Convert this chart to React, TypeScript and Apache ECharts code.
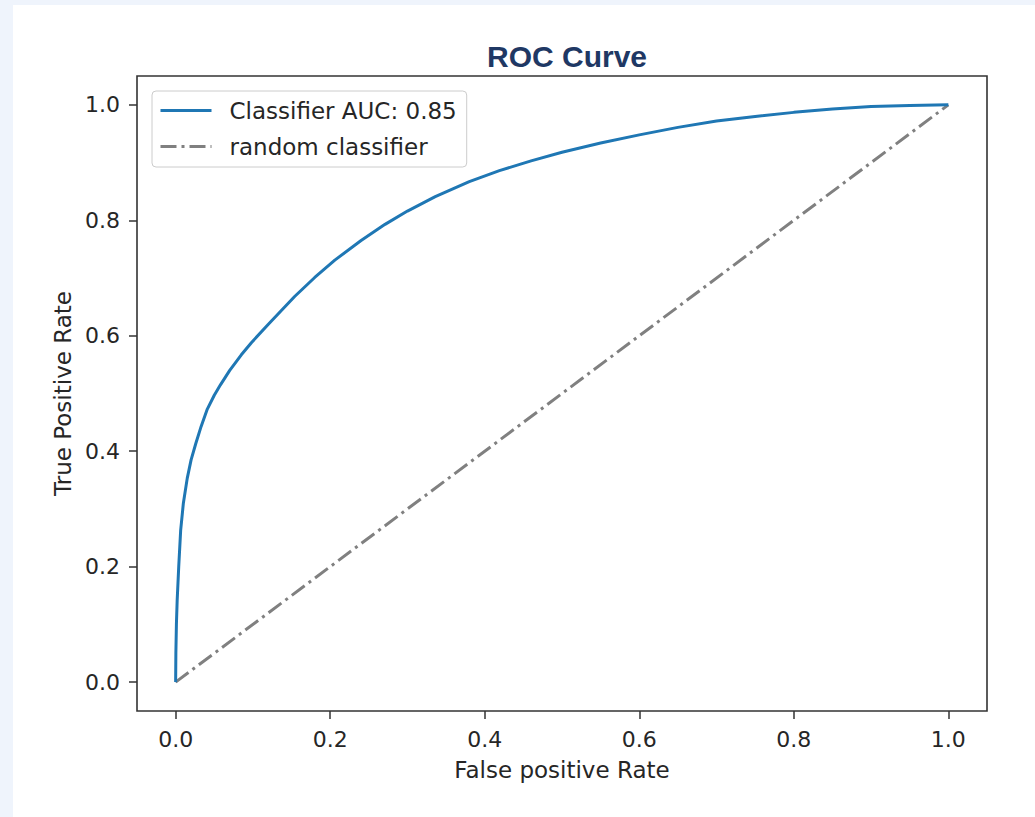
import React, { useEffect, useRef } from "react";
import * as echarts from "echarts";

const fpr = [0, 0.0003, 0.001, 0.002, 0.004, 0.0065, 0.01, 0.015, 0.02, 0.026, 0.033, 0.041, 0.05, 0.058, 0.07, 0.085, 0.098, 0.12, 0.154, 0.18, 0.206, 0.24, 0.271, 0.3, 0.336, 0.38, 0.419, 0.46, 0.5, 0.55, 0.6, 0.65, 0.7, 0.75, 0.8, 0.85, 0.9, 0.95, 1.0];
const tpr = [0, 0.05, 0.1, 0.142, 0.2, 0.263, 0.31, 0.353, 0.385, 0.413, 0.443, 0.473, 0.497, 0.515, 0.54, 0.567, 0.588, 0.62, 0.668, 0.701, 0.731, 0.765, 0.793, 0.816, 0.841, 0.867, 0.886, 0.903, 0.918, 0.934, 0.948, 0.961, 0.972, 0.98, 0.987, 0.993, 0.997, 0.999, 1.0];
const randomFpr = [0, 1];
const randomTpr = [0, 1];
const tickValues = [0, 0.2, 0.4, 0.6, 0.8, 1.0];
const classifierName = "Classifier AUC: 0.85";
const randomName = "random classifier";

const FONT = "DejaVu Sans";
const TEXT = "#262626";
const AXIS = "#333333";

export default function App() {
  const ref = useRef<HTMLDivElement>(null);
  useEffect(() => {
    if (!ref.current) return;
    const chart = echarts.init(ref.current, null, { renderer: "svg" });
    const axisCommon = {
      type: "value" as const,
      min: -0.05,
      max: 1.05,
      splitLine: { show: false },
      axisLine: { show: false, onZero: false },
      axisTick: {
        show: true,
        length: 8,
        customValues: tickValues,
        lineStyle: { color: AXIS, width: 1.5 },
      },
      axisLabel: {
        customValues: tickValues,
        formatter: (v: number) => v.toFixed(1),
        color: TEXT,
        fontFamily: FONT,
        fontSize: 22,
        margin: 17,
      },
      nameLocation: "middle" as const,
      nameTextStyle: { color: TEXT, fontFamily: FONT, fontSize: 23 },
    };
    chart.setOption({
      animation: false,
      backgroundColor: "#eff4fc",
      graphic: [
        {
          type: "rect",
          z: -10,
          shape: { x: 13, y: 5, width: 1100, height: 900 },
          style: { fill: "#ffffff" },
          silent: true,
        },
      ],
      title: {
        text: "ROC Curve",
        left: 562,
        top: 36,
        textAlign: "center",
        textStyle: {
          fontFamily: "Liberation Sans",
          fontWeight: "bold",
          fontSize: 30,
          color: "#1f3864",
        },
      },
      grid: {
        left: 137,
        top: 76,
        width: 850,
        height: 635,
        show: true,
        borderColor: AXIS,
        borderWidth: 1.6,
        backgroundColor: "transparent",
        containLabel: false,
      },
      legend: {
        orient: "vertical",
        left: 152,
        top: 91,
        itemWidth: 51,
        itemHeight: 14,
        itemGap: 13,
        padding: [8, 10, 9, 7],
        backgroundColor: "rgba(255,255,255,0.8)",
        borderColor: "#cccccc",
        borderWidth: 1,
        borderRadius: 4,
        itemStyle: { opacity: 0 },
        lineStyle: { width: 3 },
        textStyle: {
          color: TEXT,
          fontFamily: FONT,
          fontSize: 23,
          padding: [0, 0, 0, 13],
        },
        data: [classifierName, randomName],
      },
      xAxis: { ...axisCommon, name: "False positive Rate", nameGap: 47 },
      yAxis: { ...axisCommon, name: "True Positive Rate", nameGap: 62 },
      series: [
        {
          name: classifierName,
          type: "line",
          symbol: "none",
          data: fpr.map((x, i) => [x, tpr[i]]),
          lineStyle: { color: "#1f77b4", width: 3 },
          itemStyle: { color: "#1f77b4" },
          z: 3,
        },
        {
          name: randomName,
          type: "line",
          symbol: "none",
          data: randomFpr.map((x, i) => [x, randomTpr[i]]),
          lineStyle: { color: "#808080", width: 3, type: [16, 5, 3, 5] },
          itemStyle: { color: "#808080" },
          z: 2,
        },
      ],
    });
    return () => chart.dispose();
  }, []);
  return (
    <div
      ref={ref}
      style={{ position: "fixed", left: 0, top: 0, width: 1035, height: 817 }}
    />
  );
}
